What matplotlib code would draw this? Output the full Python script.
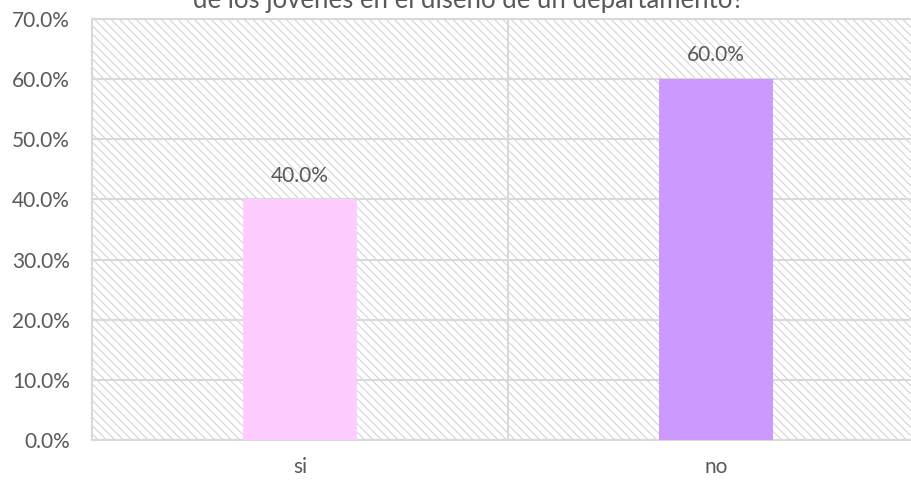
import matplotlib
matplotlib.use("Agg")
import matplotlib.pyplot as plt
from matplotlib.patches import Rectangle
from matplotlib.ticker import FuncFormatter

categories = ["si", "no"]
values = [40.0, 60.0]
bar_colors = ["#FFCCFF", "#CC99FF"]
y_ticks = [0, 10, 20, 30, 40, 50, 60, 70]
title_text = "de los jóvenes en el diseño de un departamento?"

plt.rcParams['font.family'] = ['Lato', 'DejaVu Sans']
plt.rcParams['hatch.linewidth'] = 0.7
plt.rcParams['hatch.color'] = '#d0d0d0'

text_color = '#595959'
grid_color = '#d9d9d9'

fig = plt.figure(figsize=(9.12, 4.86), dpi=100)
ax = fig.add_axes([92/912, 46/486, 832/912, 421/486])

# hatched background
bg = Rectangle((0, 0), 1, 1, transform=ax.transAxes, facecolor='white',
               edgecolor='#d0d0d0', hatch='\\\\\\\\', lw=0, zorder=0)
ax.add_patch(bg)
ax.patch.set_visible(False)

x = list(range(len(categories)))
ax.bar(x, values, width=0.274, color=bar_colors, zorder=3)

for xi, v in zip(x, values):
    ax.annotate(f"{v:.1f}%", (xi, v), xytext=(0, 10), textcoords='offset points',
                ha='center', va='bottom', fontsize=15, color=text_color, zorder=4)

ax.set_xlim(-0.5, len(categories) - 0.5)
ax.set_ylim(0, 70)
ax.set_yticks(y_ticks)
ax.yaxis.set_major_formatter(FuncFormatter(lambda v, p: f"{v:.1f}%"))
ax.set_xticks(x)
ax.set_xticklabels(categories)

ax.grid(axis='y', color=grid_color, lw=1.5, zorder=1)
for sep in [0.5]:
    ax.axvline(sep, color=grid_color, lw=1.5, zorder=1)

for side in ['left', 'top', 'bottom', 'right']:
    ax.spines[side].set_color(grid_color)
    ax.spines[side].set_linewidth(1.5)

ax.tick_params(axis='both', length=0, labelsize=15, labelcolor=text_color)
ax.tick_params(axis='y', pad=16)
ax.tick_params(axis='x', pad=12)

fig.text(0.514, 1 - 8/486, title_text, ha='center', va='baseline',
         fontsize=18.5, color=text_color)

fig.savefig("out.png", dpi=100)
